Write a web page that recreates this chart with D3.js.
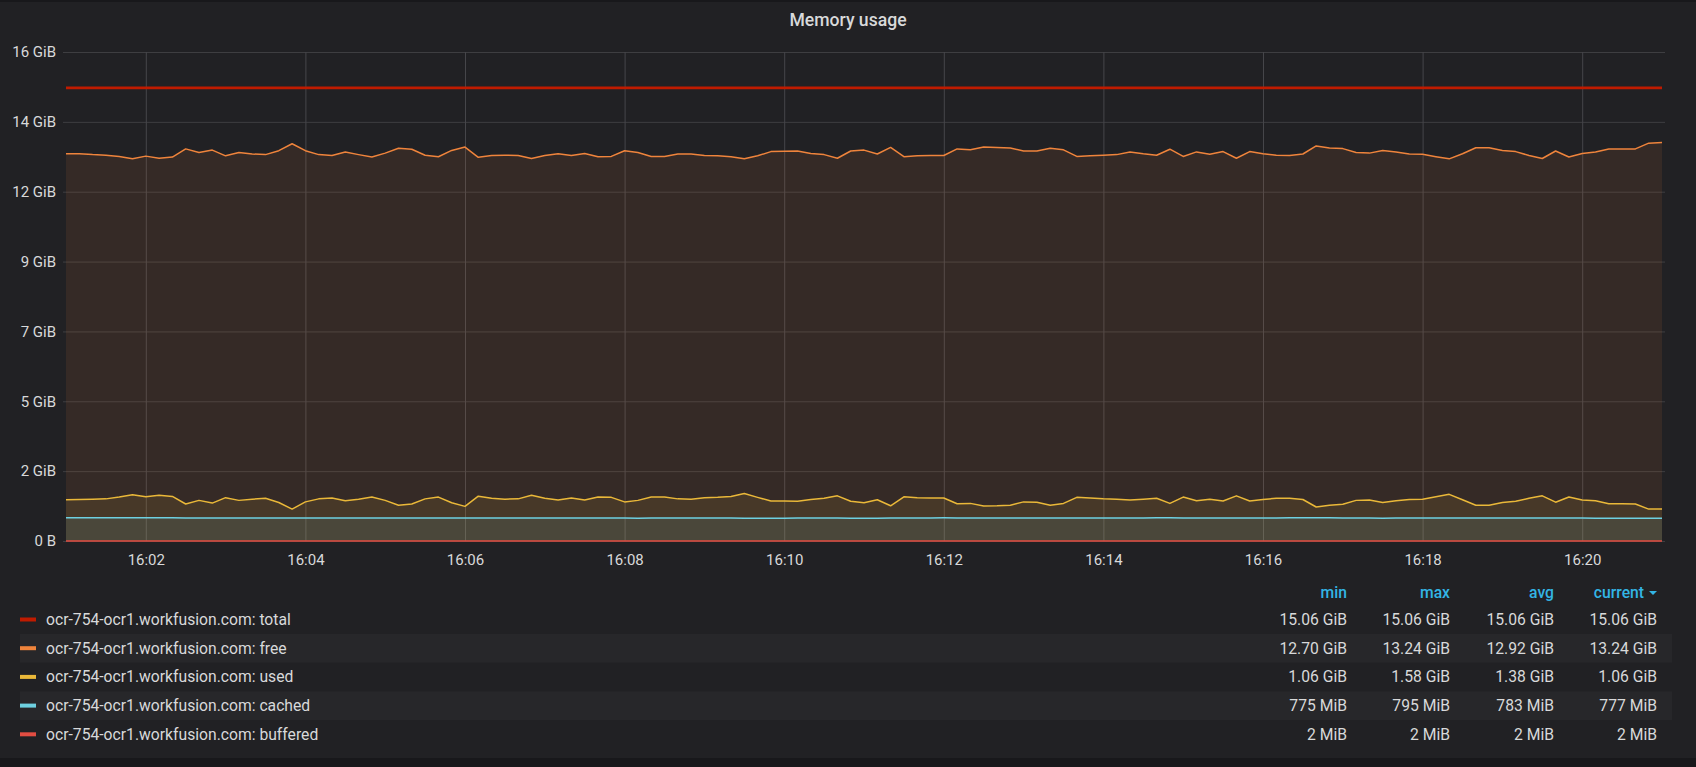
<!doctype html>
<html>

<head>
	<meta charset="utf-8">
	<style>
		body { margin: 0; background: #18181b; }
		svg text { font-family: Roboto, "Noto Sans", sans-serif; }
	</style>
</head>

<body>
	<div class="figure"></div>

	<script src="https://d3js.org/d3.v7.min.js"></script>
	<script>
		// --- data (10 s step, 16:01:00 .. 16:21:00) ---
		let startTime = new Date(2019, 0, 1, 16, 1, 0);
		let stepSeconds = 10;

		let seriesNames = ["total", "free", "used", "cached", "buffered"];
		let seriesColors = ["#BF1B00", "#EF843C", "#EAB839", "#6ED0E0", "#E24D42"];
		let hostName = "ocr-754-ocr1.workfusion.com";

		// GiB
		let totalGiB = [
			15.06, 15.06, 15.06, 15.06, 15.06, 15.06, 15.06, 15.06, 15.06, 15.06,
			15.06, 15.06, 15.06, 15.06, 15.06, 15.06, 15.06, 15.06, 15.06, 15.06,
			15.06, 15.06, 15.06, 15.06, 15.06, 15.06, 15.06, 15.06, 15.06, 15.06,
			15.06, 15.06, 15.06, 15.06, 15.06, 15.06, 15.06, 15.06, 15.06, 15.06,
			15.06, 15.06, 15.06, 15.06, 15.06, 15.06, 15.06, 15.06, 15.06, 15.06,
			15.06, 15.06, 15.06, 15.06, 15.06, 15.06, 15.06, 15.06, 15.06, 15.06,
			15.06, 15.06, 15.06, 15.06, 15.06, 15.06, 15.06, 15.06, 15.06, 15.06,
			15.06, 15.06, 15.06, 15.06, 15.06, 15.06, 15.06, 15.06, 15.06, 15.06,
			15.06, 15.06, 15.06, 15.06, 15.06, 15.06, 15.06, 15.06, 15.06, 15.06,
			15.06, 15.06, 15.06, 15.06, 15.06, 15.06, 15.06, 15.06, 15.06, 15.06,
			15.06, 15.06, 15.06, 15.06, 15.06, 15.06, 15.06, 15.06, 15.06, 15.06,
			15.06, 15.06, 15.06, 15.06, 15.06, 15.06, 15.06, 15.06, 15.06, 15.06,
			15.06
		];
		let freeGiB = [
			12.87, 12.87, 12.84, 12.82, 12.78, 12.70, 12.79, 12.72, 12.76, 13.03,
			12.91, 12.99, 12.80, 12.91, 12.86, 12.84, 12.97, 13.20, 12.97, 12.84,
			12.81, 12.93, 12.84, 12.76, 12.89, 13.05, 13.02, 12.82, 12.77, 12.98,
			13.09, 12.75, 12.81, 12.82, 12.81, 12.71, 12.81, 12.87, 12.81, 12.88,
			12.77, 12.78, 12.97, 12.91, 12.78, 12.78, 12.86, 12.86, 12.81, 12.80,
			12.77, 12.70, 12.80, 12.94, 12.95, 12.96, 12.88, 12.84, 12.72, 12.96,
			12.99, 12.86, 13.08, 12.77, 12.80, 12.81, 12.81, 13.03, 13.00, 13.09,
			13.08, 13.06, 12.96, 12.96, 13.05, 13.00, 12.78, 12.80, 12.82, 12.84,
			12.93, 12.87, 12.82, 13.02, 12.78, 12.93, 12.85, 12.94, 12.72, 12.94,
			12.87, 12.82, 12.81, 12.86, 13.13, 13.06, 13.04, 12.91, 12.89, 12.98,
			12.93, 12.86, 12.85, 12.77, 12.70, 12.87, 13.07, 13.07, 12.98, 12.94,
			12.81, 12.71, 12.96, 12.76, 12.88, 12.93, 13.03, 13.03, 13.03, 13.22,
			13.24
		];
		let usedGiB = [
			1.37, 1.38, 1.39, 1.40, 1.46, 1.54, 1.47, 1.52, 1.48, 1.23,
			1.35, 1.26, 1.44, 1.35, 1.39, 1.42, 1.28, 1.06, 1.30, 1.40,
			1.43, 1.34, 1.39, 1.46, 1.35, 1.19, 1.23, 1.40, 1.46, 1.27,
			1.15, 1.49, 1.42, 1.39, 1.40, 1.52, 1.42, 1.36, 1.43, 1.36,
			1.46, 1.45, 1.30, 1.35, 1.46, 1.46, 1.40, 1.39, 1.44, 1.45,
			1.48, 1.58, 1.45, 1.33, 1.33, 1.32, 1.38, 1.42, 1.50, 1.32,
			1.27, 1.37, 1.17, 1.47, 1.44, 1.43, 1.43, 1.24, 1.25, 1.16,
			1.17, 1.19, 1.30, 1.29, 1.19, 1.25, 1.45, 1.43, 1.40, 1.39,
			1.36, 1.39, 1.42, 1.25, 1.46, 1.34, 1.39, 1.33, 1.50, 1.33,
			1.38, 1.42, 1.42, 1.38, 1.13, 1.19, 1.22, 1.35, 1.36, 1.28,
			1.34, 1.38, 1.39, 1.47, 1.55, 1.37, 1.19, 1.19, 1.28, 1.32,
			1.42, 1.50, 1.29, 1.46, 1.36, 1.34, 1.24, 1.24, 1.23, 1.06,
			1.06
		];
		// MiB
		let cachedMiB = [
			790, 791, 789, 790, 791, 790, 791, 790, 789, 785,
			784, 783, 782, 781, 782, 781, 780, 781, 782, 783,
			782, 784, 786, 785, 784, 781, 780, 781, 782, 780,
			779, 782, 783, 784, 785, 786, 784, 783, 782, 784,
			785, 781, 779, 778, 780, 782, 783, 784, 785, 783,
			782, 778, 777, 776, 778, 780, 782, 783, 781, 778,
			776, 777, 779, 781, 784, 786, 787, 785, 784, 782,
			780, 779, 781, 783, 785, 784, 782, 780, 779, 781,
			783, 785, 787, 788, 786, 785, 783, 781, 780, 782,
			784, 786, 788, 795, 790, 787, 784, 782, 780, 778,
			779, 781, 783, 785, 786, 784, 782, 781, 783, 785,
			784, 783, 781, 780, 779, 778, 777, 776, 775, 776,
			777
		];
		let bufferedMiB = [
			2, 2, 2, 2, 2, 2, 2, 2, 2, 2, 2, 2, 2, 2, 2, 2, 2, 2, 2, 2,
			2, 2, 2, 2, 2, 2, 2, 2, 2, 2, 2, 2, 2, 2, 2, 2, 2, 2, 2, 2,
			2, 2, 2, 2, 2, 2, 2, 2, 2, 2, 2, 2, 2, 2, 2, 2, 2, 2, 2, 2,
			2, 2, 2, 2, 2, 2, 2, 2, 2, 2, 2, 2, 2, 2, 2, 2, 2, 2, 2, 2,
			2, 2, 2, 2, 2, 2, 2, 2, 2, 2, 2, 2, 2, 2, 2, 2, 2, 2, 2, 2,
			2, 2, 2, 2, 2, 2, 2, 2, 2, 2, 2, 2, 2, 2, 2, 2, 2, 2, 2, 2,
			2
		];

		let yMaxGiB = 16.25;
		let yTickLabels = ["0 B", "2 GiB", "5 GiB", "7 GiB", "9 GiB", "12 GiB", "14 GiB", "16 GiB"];

		let legendColumns = ["min", "max", "avg", "current"];
		let legendMin = ["15.06 GiB", "12.70 GiB", "1.06 GiB", "775 MiB", "2 MiB"];
		let legendMax = ["15.06 GiB", "13.24 GiB", "1.58 GiB", "795 MiB", "2 MiB"];
		let legendAvg = ["15.06 GiB", "12.92 GiB", "1.38 GiB", "783 MiB", "2 MiB"];
		let legendCurrent = ["15.06 GiB", "13.24 GiB", "1.06 GiB", "777 MiB", "2 MiB"];

		// --- svg ---
		let WIDTH = 1696, HEIGHT = 767;
		let svg = d3.select(".figure")
			.append("svg")
			.attr("width", WIDTH)
			.attr("height", HEIGHT)
			.style("display", "block");

		// panel
		svg.append("rect")
			.attr("x", 0).attr("y", 2)
			.attr("width", WIDTH).attr("height", 756)
			.attr("fill", "#212124");

		svg.append("text")
			.attr("x", WIDTH / 2).attr("y", 20)
			.attr("dy", "0.35em")
			.attr("text-anchor", "middle")
			.attr("fill", "#d8d9da")
			.style("font-size", "17.6px")
			.style("font-weight", 500)
			.text("Memory usage");

		let plotLeft = 66, plotRight = 1662, plotTop = 52, plotBottom = 541;

		let times = totalGiB.map((d, i) => new Date(startTime.getTime() + i * stepSeconds * 1000));

		let x = d3.scaleTime()
			.domain([times[0], times[times.length - 1]])
			.range([plotLeft, plotRight]);

		let y = d3.scaleLinear()
			.domain([0, yMaxGiB])
			.range([plotBottom, plotTop]);

		let yTicks = yTickLabels.map((d, i) => yMaxGiB * i / (yTickLabels.length - 1));

		// grid + y labels
		let yAxis = svg.append("g")
			.attr("transform", "translate(63,0)")
			.call(d3.axisLeft(y)
				.tickValues(yTicks)
				.tickFormat((d, i) => yTickLabels[i])
				.tickSize(-(plotRight - 63 + 3))
				.tickPadding(7));
		yAxis.select(".domain").remove();
		yAxis.selectAll("line").attr("stroke", "#3e3e41");
		yAxis.selectAll("text")
			.attr("fill", "#d8d9da")
			.style("font-size", "15px");

		let xAxis = svg.append("g")
			.attr("transform", "translate(0," + plotBottom + ")")
			.call(d3.axisBottom(x)
				.ticks(d3.timeMinute.every(2))
				.tickFormat(d3.timeFormat("%H:%M"))
				.tickSize(-(plotBottom - plotTop))
				.tickPadding(13));
		xAxis.select(".domain").remove();
		xAxis.selectAll("line").attr("stroke", "#46464a");
		xAxis.selectAll("text")
			.attr("fill", "#d8d9da")
			.style("font-size", "15px");

		// series
		let seriesValues = [
			totalGiB,
			freeGiB,
			usedGiB,
			cachedMiB.map(d => d / 1024),
			bufferedMiB.map(d => d / 1024)
		];
		let seriesFill = [false, true, true, true, true];
		let seriesWidth = [2.7, 1.5, 1.5, 1.5, 1.5];

		let area = d3.area()
			.x((d, i) => x(times[i]))
			.y0(y(0))
			.y1(d => y(d));
		let line = d3.line()
			.x((d, i) => x(times[i]))
			.y(d => y(d));

		seriesValues.forEach((vals, s) => {
			if (seriesFill[s]) {
				svg.append("path")
					.attr("d", area(vals))
					.attr("fill", seriesColors[s])
					.attr("fill-opacity", 0.1);
			}
			svg.append("path")
				.attr("d", line(vals))
				.attr("fill", "none")
				.attr("stroke", seriesColors[s])
				.attr("stroke-width", seriesWidth[s])
				.attr("stroke-linejoin", "round");
		});

		// --- legend table ---
		let headerY = 593;
		let rowY0 = 619.5;
		let rowStep = 28.7;
		let colRight = [1347, 1450, 1554, 1657];

		legendColumns.forEach((c, i) => {
			svg.append("text")
				.attr("x", i === 3 ? colRight[i] - 13 : colRight[i])
				.attr("y", headerY)
				.attr("dy", "0.35em")
				.attr("text-anchor", "end")
				.attr("fill", "#33b5e5")
				.style("font-size", "15.7px")
				.style("font-weight", 500)
				.text(c);
		});
		// sort caret next to "current"
		svg.append("path")
			.attr("d", "M" + (colRight[3] - 8) + "," + (headerY - 2) + " l8,0 l-4,4 z")
			.attr("fill", "#33b5e5");

		let legendRows = svg.selectAll(".legend-row")
			.data(seriesNames)
			.enter()
			.append("g")
			.attr("class", "legend-row")
			.attr("transform", (d, i) => "translate(0," + (rowY0 + i * rowStep) + ")");

		legendRows.filter((d, i) => i % 2 === 1)
			.append("rect")
			.attr("x", 20).attr("y", -14.3)
			.attr("width", 1652).attr("height", rowStep)
			.attr("fill", "#27272a");

		legendRows.append("rect")
			.attr("x", 20).attr("y", -2)
			.attr("width", 16).attr("height", 4)
			.attr("fill", (d, i) => seriesColors[i]);

		legendRows.append("text")
			.attr("x", 46)
			.attr("dy", "0.35em")
			.attr("fill", "#d8d9da")
			.style("font-size", "15.7px")
			.text(d => hostName + ": " + d);

		[legendMin, legendMax, legendAvg, legendCurrent].forEach((col, c) => {
			legendRows.append("text")
				.attr("x", colRight[c])
				.attr("dy", "0.35em")
				.attr("text-anchor", "end")
				.attr("fill", "#d8d9da")
				.style("font-size", "15.7px")
				.text((d, i) => col[i]);
		});
	</script>

</body>

</html>
